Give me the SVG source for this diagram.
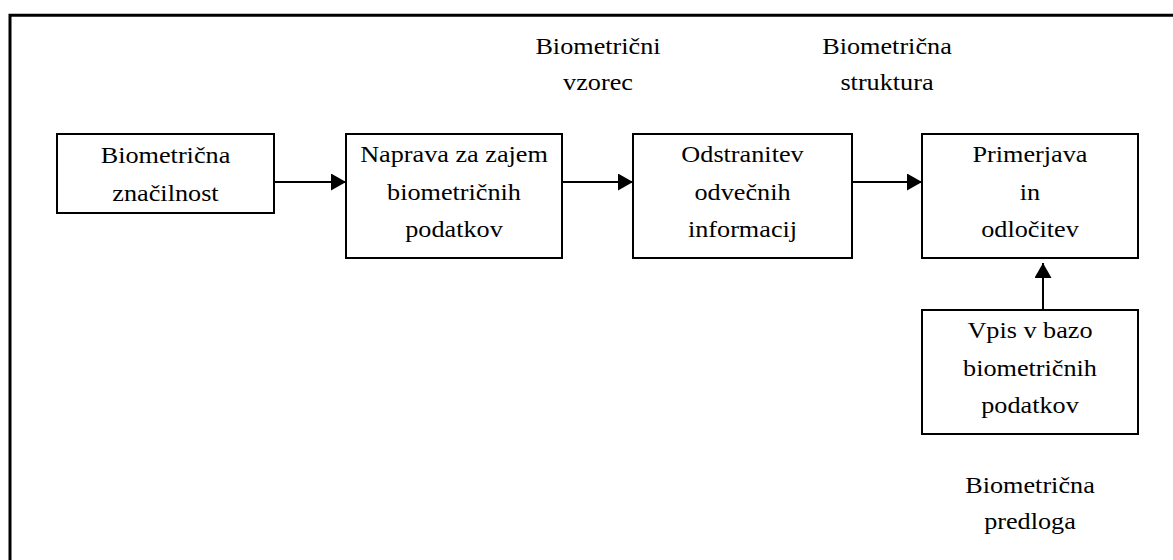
<svg xmlns="http://www.w3.org/2000/svg" width="1173" height="560" viewBox="0 0 1173 560">
<style>
.box{fill:#fff;stroke:#000;stroke-width:2}
.c{stroke:#000;stroke-width:2;fill:none}
.t{font-family:"Liberation Serif","Times New Roman",serif;font-size:23px;fill:#000;text-anchor:middle}
</style>
<defs>
<marker id="ah" viewBox="0 0 15 17" refX="15" refY="8.5" markerWidth="15" markerHeight="17" markerUnits="userSpaceOnUse" orient="auto">
<path d="M0,0 L15,8.5 L0,17 Z" fill="#000"/>
</marker>
</defs>
<rect width="1173" height="560" fill="#fff"/>
<path d="M10,560 V15.3 H1173" fill="none" stroke="#000" stroke-width="3"/>
<g id="n1">
<rect class="box" x="57" y="134" width="217" height="79"/>
<text class="t" transform="translate(165.5 0) scale(1.14 1)" y="163">Biometrična</text>
<text class="t" transform="translate(165.5 0) scale(1.14 1)" y="201">značilnost</text>
</g>
<g id="n2">
<rect class="box" x="346" y="134" width="216" height="124"/>
<text class="t" transform="translate(454 0) scale(1.14 1)" y="162">Naprava za zajem</text>
<text class="t" transform="translate(454 0) scale(1.14 1)" y="200">biometričnih</text>
<text class="t" transform="translate(454 0) scale(1.14 1)" y="237">podatkov</text>
</g>
<g id="n3">
<rect class="box" x="633" y="134" width="219" height="124"/>
<text class="t" transform="translate(742.5 0) scale(1.14 1)" y="162">Odstranitev</text>
<text class="t" transform="translate(742.5 0) scale(1.14 1)" y="200">odvečnih</text>
<text class="t" transform="translate(742.5 0) scale(1.14 1)" y="237">informacij</text>
</g>
<g id="n4">
<rect class="box" x="922" y="134" width="216" height="124"/>
<text class="t" transform="translate(1030 0) scale(1.14 1)" y="162">Primerjava</text>
<text class="t" transform="translate(1030 0) scale(1.14 1)" y="200">in</text>
<text class="t" transform="translate(1030 0) scale(1.14 1)" y="237">odločitev</text>
</g>
<g id="n5">
<rect class="box" x="922" y="310" width="216" height="124"/>
<text class="t" transform="translate(1030 0) scale(1.14 1)" y="338">Vpis v bazo</text>
<text class="t" transform="translate(1030 0) scale(1.14 1)" y="376">biometričnih</text>
<text class="t" transform="translate(1030 0) scale(1.14 1)" y="413">podatkov</text>
</g>
<g id="l1">
<text class="t" transform="translate(598 0) scale(1.14 1)" y="54">Biometrični</text>
<text class="t" transform="translate(598 0) scale(1.14 1)" y="90">vzorec</text>
</g>
<g id="l2">
<text class="t" transform="translate(887 0) scale(1.14 1)" y="54">Biometrična</text>
<text class="t" transform="translate(887 0) scale(1.14 1)" y="90">struktura</text>
</g>
<g id="l3">
<text class="t" transform="translate(1030 0) scale(1.14 1)" y="493">Biometrična</text>
<text class="t" transform="translate(1030 0) scale(1.14 1)" y="529">predloga</text>
</g>
<g id="connectors">
<line class="c" x1="274" y1="182" x2="346" y2="182" marker-end="url(#ah)"/>
<line class="c" x1="562" y1="182" x2="633" y2="182" marker-end="url(#ah)"/>
<line class="c" x1="852" y1="182" x2="922" y2="182" marker-end="url(#ah)"/>
<line class="c" x1="1043" y1="310" x2="1043" y2="263" marker-end="url(#ah)"/>
</g>
</svg>
